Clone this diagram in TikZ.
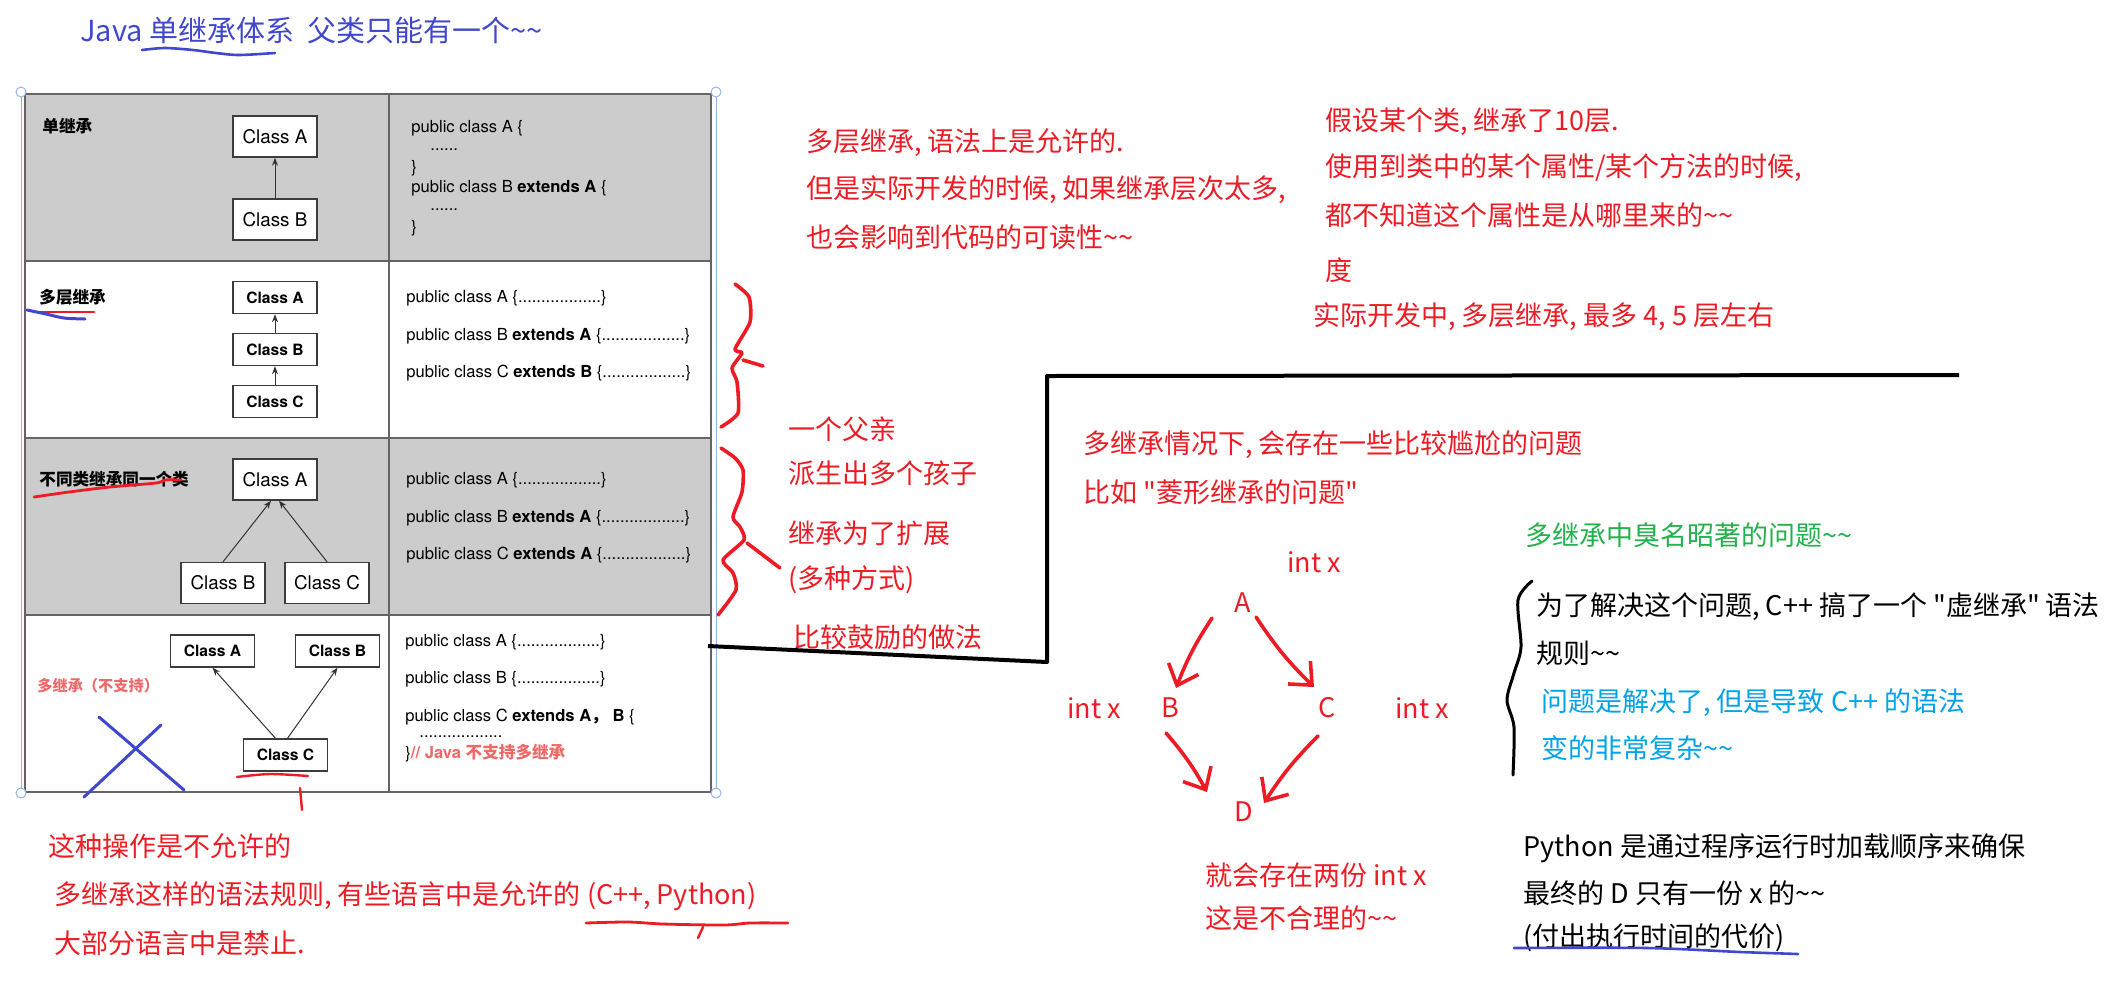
\documentclass[tikz,border=0pt]{standalone}
\usepackage{fontspec}
\setmainfont{Noto Sans CJK SC}
\newfontfamily\cjkfont{Noto Sans CJK SC}
\newfontfamily\classfont{TeX Gyre Heros}
\usetikzlibrary{arrows.meta,positioning}

\definecolor{penred}{RGB}{237,28,36}
\definecolor{pengreen}{RGB}{34,177,76}
\definecolor{penblue}{RGB}{63,72,204}
\definecolor{skyblue}{RGB}{0,162,232}
\definecolor{salmon}{RGB}{240,105,105}
\definecolor{rowgray}{RGB}{204,204,204}
\definecolor{ruleline}{RGB}{100,100,100}
\definecolor{boxline}{RGB}{60,60,60}
\definecolor{handle}{RGB}{150,180,235}

\newcommand\wavy{\textasciitilde\textasciitilde}
\newcommand\dq{\textquotedbl}

\tikzset{
  note/.style={anchor=west, inner sep=0pt, font=\fontsize{13.5}{16}\selectfont, text=penred},
  headline/.style={anchor=west, inner sep=0pt, font=\fontsize{14.5}{17}\selectfont, text=penblue},
  rowlabel/.style={anchor=west, inner sep=0pt, font=\bfseries\fontsize{8.3}{10}\selectfont},
  code/.style={anchor=west, inner sep=0pt, font=\classfont\fontsize{8.3}{10}\selectfont},
  classbox/.style={draw=boxline, fill=white, line width=0.7pt, inner sep=0pt,
    minimum width=42pt, minimum height=20.5pt, font=\classfont\fontsize{9.4}{11}\selectfont},
  classbold/.style={classbox, minimum height=16pt, font=\classfont\bfseries\fontsize{7.8}{9}\selectfont},
  inherit/.style={draw=black!80, line width=0.5pt, -{Stealth[length=4pt,width=3pt]}},
  pen/.style={line width=1.8pt, line cap=round, line join=round},
  hook/.style={pen, penred, -{Straight Barb[length=9pt,width=16pt]}},
}

\begin{document}
\begin{tikzpicture}[x=0.5pt, y=-0.5pt]
  \useasboundingbox (0,0) rectangle (2127,981);

  % title
  \node[headline] (title) at (80,30) {Java 单继承体系\ \ 父类只能有一个\wavy};
  \draw[pen, penblue, line width=1.3pt] plot[smooth] coordinates {(142,50) (165,48) (193,50) (216,53) (239,55) (275,53)};

  % table
  \foreach \t/\b in {94/261, 438/615} {
    \fill[rowgray] (25,\t) rectangle (712,\b);
  }
  \foreach \y in {94,261,438,615,792} {
    \draw[ruleline, line width=1.1pt] (25,\y) -- (712,\y);
  }
  \draw[ruleline, line width=0.6pt] (389,94) -- (389,792);
  \draw[ruleline, line width=0.6pt] (25,94) -- (25,792) (711,94) -- (711,792);
  \draw[handle, line width=0.5pt] (21,92) -- (21,793) (716,92) -- (716,793);
  \foreach \p in {(21,92), (716,92), (21,793), (716,793)} {
    \draw[handle, fill=white, line width=0.5pt] \p circle (2.5pt);
  }

  % row 1
  \node[rowlabel] (lab1) at (42,126) {单继承};
  \node[classbox] (a1) at (275,136.5) {Class A};
  \node[classbox] (b1) at (275,219.5) {Class B};
  \draw[inherit] (b1) -- (a1);
  \node[code] (r1a) at (411,128) {public class A \{};
  \node[code] (r1b) at (430,150) {......};
  \node[code] (r1c) at (411,168) {\}};
  \node[code] (r1d) at (411,188) {public class B \textbf{extends A} \{};
  \node[code] (r1e) at (430,210) {......};
  \node[code] (r1f) at (411,228) {\}};

  % row 2
  \node[rowlabel] (lab2) at (39,297) {多层继承};
  \draw[pen, penred, line width=1.2pt] (39,312) -- (94,312);
  \draw[pen, penblue, line width=1.5pt] plot[smooth] coordinates {(27,310) (46,314) (64,318) (85,319)};
  \node[classbold] (a2) at (275,297.5) {Class A};
  \node[classbold] (b2) at (275,349.5) {Class B};
  \node[classbold] (c2) at (275,401.5) {Class C};
  \draw[inherit] (b2) -- (a2);
  \draw[inherit] (c2) -- (b2);
  \node[code] (r2a) at (406,298) {public class A \{..................\}};
  \node[code] (r2b) at (406,336) {public class B \textbf{extends A} \{..................\}};
  \node[code] (r2c) at (406,373) {public class C \textbf{extends B} \{..................\}};

  % row 3
  \node[rowlabel] (lab3) at (39,479) {不同类继承同一个类};
  \draw[pen, penred, line width=1.4pt] plot[smooth] coordinates {(34,497) (69,492) (110,487) (156,483) (165,480) (181,480)};
  \node[classbox] (a3) at (275,479.5) {Class A};
  \node[classbox] (b3) at (223,583) {Class B};
  \node[classbox] (c3) at (327,583) {Class C};
  \draw[inherit] (b3.north) -- ([xshift=-2pt]a3.south);
  \draw[inherit] (c3.north) -- ([xshift=2pt]a3.south);
  \node[code] (r3a) at (406,480) {public class A \{..................\}};
  \node[code] (r3b) at (406,518) {public class B \textbf{extends A} \{..................\}};
  \node[code] (r3c) at (406,555) {public class C \textbf{extends A} \{..................\}};

  % row 4
  \node[rowlabel, text=salmon, font=\bfseries\fontsize{7.6}{9}\selectfont] (lab4) at (37,686) {多继承（不支持）};
  \node[classbold] (a4) at (212.5,651) {Class A};
  \node[classbold] (b4) at (337.5,651) {Class B};
  \node[classbold] (c4) at (285.5,755) {Class C};
  \draw[inherit] ([xshift=-5pt]c4.north) -- (a4.south);
  \draw[inherit] ([xshift=1pt]c4.north) -- (b4.south);
  \node[code] (r4a) at (405,642) {public class A \{..................\}};
  \node[code] (r4b) at (405,679) {public class B \{..................\}};
  \node[code] (r4c) at (405,717) {public class C \textbf{extends A{\cjkfont ，} B} \{};
  \node[code] (r4d) at (419,737) {..................};
  \node[code] (r4e) at (405,753) {\}{\color{salmon}\bfseries // Java {\cjkfont 不支持多继承}}};
  \draw[pen, penblue, line width=1.5pt] (99,717) -- (184,790);
  \draw[pen, penblue, line width=1.5pt] (161,725) -- (84,797);
  \draw[pen, penred, line width=1.2pt] plot[smooth] coordinates {(237,777) (270,774) (308,776)};
  \draw[pen, penred, line width=1.2pt] (300,788) -- (302,810);

  % below the table
  \node[note] (no1) at (48,846) {这种操作是不允许的};
  \node[note] (no2) at (54,896) {多继承这样的语法规则, 有些语言中是允许的 (C++, Python)};
  \node[note] (no3) at (54,943) {大部分语言中是禁止.};
  \draw[pen, penred, line width=1.4pt] plot[smooth] coordinates {(586,923) (628,922) (663,924) (724,925) (750,923) (788,923)};
  \draw[pen, penred, line width=1.2pt] (703,927) -- (698,938);

  % braces beside the table
  \draw[pen, penred] plot[smooth, tension=0.4] coordinates {(735,284) (749,297) (750,322) (735,349) (742,353) (732,368) (737,382) (738,413) (721,427)};
  \draw[pen, penred] (743,360) -- (763,366);
  \draw[pen, penred] plot[smooth, tension=0.4] coordinates {(721,448) (735,458) (743,470) (742,492) (733,517) (740,527) (744,540) (723,560) (733,573) (736,590) (718,615)};
  \draw[pen, penred] (747,543) -- (780,568);
  \node[note] (fa1) at (788,429) {一个父亲};
  \node[note] (fa2) at (788,473) {派生出多个孩子};
  \node[note] (fa3) at (788,533) {继承为了扩展};
  \node[note] (fa4) at (788,580) {(多种方式)};
  \node[note] (fa5) at (793,637) {比较鼓励的做法};

  % divider
  \draw[line width=2pt, line join=round] (708,646) -- (1047,662) -- (1047,376) -- (1959,375);

  % multi-level notes
  \node[note] (ml1) at (806,143) {多层继承, 语法上是允许的.};
  \node[note] (ml2) at (806,190) {但是实际开发的时候, 如果继承层次太多,};
  \node[note] (ml3) at (806,237) {也会影响到代码的可读性\wavy};
  \node[note] (ten1) at (1325,122) {假设某个类, 继承了10层.};
  \node[note] (ten2) at (1325,168) {使用到类中的某个属性/某个方法的时候,};
  \node[note] (ten3) at (1325,215) {都不知道这个属性是从哪里来的\wavy};
  \node[note] (ten4) at (1325,270) {度};
  \node[note] (ten5) at (1313,317) {实际开发中, 多层继承, 最多 4, 5 层左右};

  % diamond
  \node[note] (dm1) at (1083,445) {多继承情况下, 会存在一些比较尴尬的问题};
  \node[note] (dm2) at (1083,492) {比如 \dq 菱形继承的问题\dq};
  \node[note, anchor=center] (xA) at (1314,562) {int x};
  \node[note, anchor=center] (dA) at (1243,603) {A};
  \node[note, anchor=center] (dB) at (1170,708) {B};
  \node[note, anchor=center] (dC) at (1327,708) {C};
  \node[note, anchor=center] (dD) at (1244,812) {D};
  \node[note, anchor=center] (xB) at (1094,708) {int x};
  \node[note, anchor=center] (xC) at (1422,708) {int x};
  \draw[hook] ([shift={(-31,15)}]dA.center) to[bend right=6] ([shift={(6,-20)}]dB.center);
  \draw[hook] ([shift={(13,14)}]dA.center) to[bend right=6] ([shift={(-13,-21)}]dC.center);
  \draw[hook] ([shift={(-4,25)}]dB.center) to[bend left=6] ([shift={(-37,-20)}]dD.center);
  \draw[hook] ([shift={(-9,28)}]dC.center) to[bend right=6] ([shift={(20,-9)}]dD.center);
  \node[note] (tw1) at (1205,875) {就会存在两份 int x};
  \node[note] (tw2) at (1205,918) {这是不合理的\wavy};

  % right column
  \node[note, text=pengreen] (gr) at (1525,535) {多继承中臭名昭著的问题\wavy};
  \draw[pen, line width=1.5pt] plot[smooth, tension=0.5] coordinates {(1532,581) (1518,600) (1521,647) (1514,673) (1507,700) (1514,727) (1513,775)};
  \node[note, text=black] (vi1) at (1536,607) {为了解决这个问题, C++ 搞了一个 \dq 虚继承\dq\ 语法};
  \node[note, text=black] (vi2) at (1536,653) {规则\wavy};
  \node[note, text=skyblue] (vi3) at (1541,703) {问题是解决了, 但是导致 C++ 的语法};
  \node[note, text=skyblue] (vi4) at (1541,748) {变的非常复杂\wavy};
  \node[note, text=black] (py1) at (1523,848) {Python 是通过程序运行时加载顺序来确保};
  \node[note, text=black] (py2) at (1523,893) {最终的 D 只有一份 x 的\wavy};
  \node[note, text=black] (py3) at (1523,938) {(付出执行时间的代价)};
  \draw[pen, penblue, line width=1.3pt] plot[smooth] coordinates {(1514,948) (1647,948) (1740,952) (1798,954)};
\end{tikzpicture}
\end{document}
